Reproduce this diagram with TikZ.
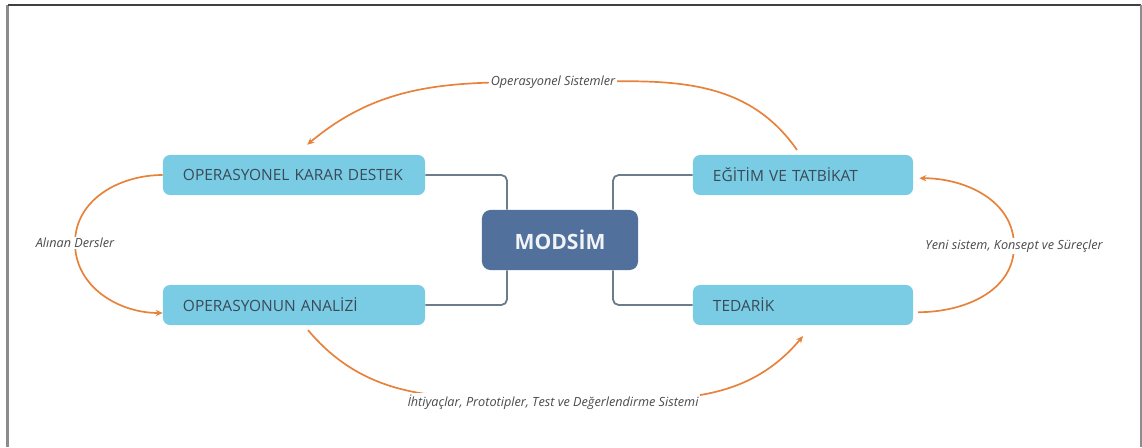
\documentclass[tikz,border=0pt]{standalone}
\usepackage{fontspec}
\setmainfont{Open Sans}
\usepackage{tikz}
\usetikzlibrary{arrows.meta, positioning}
\definecolor{boxCyan}{HTML}{7ACCE4}
\definecolor{hubBlue}{HTML}{52709C}
\definecolor{flowOrange}{HTML}{E8813A}
\definecolor{linkGray}{HTML}{6E7B8D}
\definecolor{textDark}{HTML}{3A4A56}
\definecolor{labelGray}{HTML}{4A4A4A}
\definecolor{frameGray}{HTML}{8C8C8C}

\tikzset{
  areaBox/.style={fill=boxCyan, rounded corners=5pt, minimum height=1cm,
    inner xsep=0.5cm, align=left, text=textDark, font=\fontsize{11}{13}\selectfont},
  hubBox/.style={fill=hubBlue, rounded corners=6pt, minimum width=3.9cm,
    minimum height=1.5cm, text=white!92!hubBlue, font=\fontsize{15}{18}\selectfont\bfseries},
  link/.style={draw=linkGray, line width=1.3pt, rounded corners=4pt},
  flow/.style={draw=flowOrange, line width=1.2pt, -{Stealth[length=5pt,width=4.5pt]}},
  flowLabel/.style={fill=white, inner sep=1pt, text=labelGray,
    font=\fontsize{9}{11}\selectfont\itshape}
}

\begin{document}
\begin{tikzpicture}[x=0.025cm, y=-0.025cm]
  \useasboundingbox (0,0) rectangle (1142,447);
  % frame
  \draw[frameGray, line width=1.5pt] (7.5,447) -- (7.5,5);
  \draw[black!75, line width=1pt] (7.5,5) -- (1141,5);
  \draw[frameGray, line width=1.2pt] (1141,5) -- (1141,447);

  % boxes
  \node[hubBox] (mod) at (560,240) {MODSİM};
  \node[areaBox, text width=5.55cm] (okd) at (294,175) {OPERASYONEL KARAR DESTEK};
  \node[areaBox, text width=5.55cm] (ana) at (294,305) {OPERASYONUN ANALİZİ};
  \node[areaBox, text width=4.5cm] (egt) at (803,175) {EĞİTİM VE TATBİKAT};
  \node[areaBox, text width=4.5cm] (ted) at (803,305) {TEDARİK};

  % links to hub
  \draw[link] (okd.east) -| ([xshift=-1.325cm]mod.north);
  \draw[link] (ana.east) -| ([xshift=-1.325cm]mod.south);
  \draw[link] (egt.west) -| ([xshift=1.325cm]mod.north);
  \draw[link] (ted.west) -| ([xshift=1.325cm]mod.south);

  % cycle
  \coordinate (cTop) at (553,82);
  \coordinate (cLeft) at (75,243);
  \coordinate (cBot) at (553,398);
  \coordinate (cRight) at (1014,246);
  \draw[flow] ([xshift=-0.15cm,yshift=0.12cm]egt.north) to[out=125,in=0] (cTop)
    to[out=180,in=40] ([xshift=0.33cm,yshift=0.25cm]okd.north);
  \draw[flow] (okd.west) to[out=180,in=90] (cLeft)
    to[out=-90,in=180] ([yshift=-0.2cm]ana.west);
  \draw[flow] ([xshift=0.35cm,yshift=-0.12cm]ana.south) to[out=-50,in=180] (cBot)
    to[out=0,in=-130] ([yshift=-0.27cm]ted.south);
  \draw[flow] ([xshift=0.12cm,yshift=-0.18cm]ted.east) to[out=0,in=-90] (cRight)
    to[out=90,in=0] ([xshift=0.15cm,yshift=-0.08cm]egt.east);

  \node[flowLabel] (lTop) at (cTop) {Operasyonel Sistemler};
  \node[flowLabel] (lLeft) at (cLeft) {Alınan Dersler};
  \node[flowLabel] (lBot) at ([yshift=-0.1cm]cBot) {İhtiyaçlar, Prototipler, Test ve Değerlendirme Sistemi};
  \node[flowLabel] (lRight) at (cRight) {Yeni sistem, Konsept ve Süreçler};
\end{tikzpicture}
\end{document}
